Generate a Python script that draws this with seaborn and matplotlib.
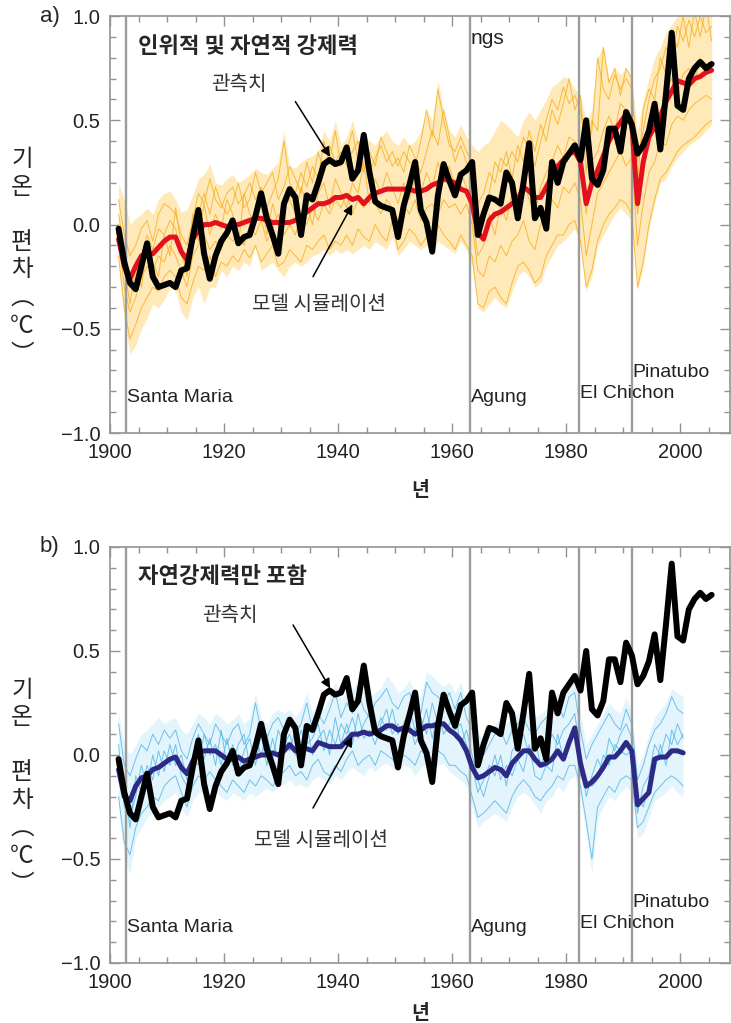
"""
Observed vs. simulated global temperature anomaly (1901-2005).

Two panels: (a) models with anthropogenic + natural forcing,
(b) models with natural forcing only.  Thin lines are individual model
runs, the thick coloured line is the multi-model mean, black is observed.
"""

import matplotlib
matplotlib.use("Agg")
import matplotlib.pyplot as plt
import numpy as np
import pandas as pd
import seaborn as sns
from matplotlib import font_manager
from matplotlib.ticker import MultipleLocator

# ── Data ──────────────────────────────────────────────────────────────────────

YEARS_A = np.arange(1901, 2006)
YEARS_B = np.arange(1901, 2001)

OBSERVED = [
    -0.02, -0.18, -0.28, -0.31, -0.20, -0.09, -0.25, -0.30, -0.29, -0.28,
    -0.30, -0.22, -0.21, -0.06, 0.07, -0.14, -0.26, -0.15, -0.08, -0.04,
    0.02, -0.09, -0.06, -0.05, 0.04, 0.15, 0.03, -0.05, -0.14, 0.10,
    0.17, 0.13, -0.05, 0.14, 0.12, 0.20, 0.29, 0.31, 0.29, 0.30,
    0.37, 0.22, 0.26, 0.43, 0.25, 0.11, 0.09, 0.08, 0.07, -0.06,
    0.09, 0.19, 0.30, 0.07, 0.01, -0.13, 0.14, 0.29, 0.21, 0.14,
    0.24, 0.26, 0.30, -0.05, 0.05, 0.13, 0.12, 0.10, 0.25, 0.20,
    0.03, 0.20, 0.39, 0.03, 0.08, -0.02, 0.30, 0.20, 0.30, 0.34,
    0.38, 0.31, 0.50, 0.22, 0.19, 0.26, 0.46, 0.46, 0.35, 0.54,
    0.48, 0.34, 0.38, 0.45, 0.58, 0.36, 0.63, 0.92, 0.57, 0.55,
    0.70, 0.75, 0.78, 0.75, 0.77,
]

# panel a: anthropogenic + natural forcing
MEAN_A = [
    -0.07, -0.20, -0.26, -0.20, -0.15, -0.14, -0.14, -0.11, -0.08, -0.06,
    -0.06, -0.13, -0.17, -0.07, -0.03, 0.00, 0.00, 0.01, 0.00, -0.01,
    0.00, 0.00, 0.01, 0.02, 0.03, 0.03, 0.02, 0.01, 0.01, 0.01,
    0.01, 0.02, 0.04, 0.06, 0.08, 0.10, 0.10, 0.11, 0.13, 0.13,
    0.14, 0.12, 0.13, 0.10, 0.13, 0.15, 0.16, 0.17, 0.17, 0.17,
    0.17, 0.17, 0.16, 0.16, 0.17, 0.19, 0.20, 0.22, 0.21, 0.20,
    0.17, 0.16, 0.10, -0.04, -0.07, 0.02, 0.05, 0.06, 0.08, 0.10,
    0.12, 0.18, 0.16, 0.13, 0.13, 0.18, 0.23, 0.28, 0.31, 0.34,
    0.35, 0.30, 0.10, 0.20, 0.26, 0.33, 0.40, 0.45, 0.49, 0.53,
    0.48, 0.10, 0.30, 0.42, 0.47, 0.52, 0.59, 0.64, 0.69, 0.68,
    0.67, 0.70, 0.71, 0.73, 0.74,
]
HIGH_A = [
    0.20, 0.12, 0.00, 0.03, 0.05, 0.08, 0.05, 0.12, 0.15, 0.16,
    0.12, 0.06, 0.07, 0.14, 0.22, 0.24, 0.29, 0.20, 0.19, 0.22,
    0.24, 0.20, 0.22, 0.24, 0.27, 0.25, 0.24, 0.27, 0.30, 0.45,
    0.28, 0.27, 0.30, 0.32, 0.33, 0.35, 0.45, 0.40, 0.50, 0.38,
    0.42, 0.50, 0.40, 0.43, 0.40, 0.38, 0.42, 0.45, 0.40, 0.38,
    0.42, 0.38, 0.40, 0.45, 0.55, 0.50, 0.69, 0.55, 0.45, 0.42,
    0.48, 0.42, 0.38, 0.35, 0.38, 0.40, 0.45, 0.50, 0.48, 0.45,
    0.42, 0.50, 0.54, 0.50, 0.55, 0.60, 0.66, 0.68, 0.71, 0.70,
    0.65, 0.62, 0.50, 0.55, 0.80, 0.86, 0.70, 0.75, 0.72, 0.75,
    0.70, 0.45, 0.60, 0.70, 0.80, 0.85, 0.92, 0.96, 1.00, 1.02,
    1.05, 1.02, 1.05, 1.08, 1.02,
]
LOW_A = [
    -0.20, -0.45, -0.62, -0.58, -0.50, -0.45, -0.38, -0.40, -0.36, -0.30,
    -0.32, -0.42, -0.46, -0.35, -0.30, -0.38, -0.30, -0.30, -0.22, -0.25,
    -0.20, -0.22, -0.18, -0.20, -0.10, -0.22, -0.20, -0.18, -0.22, -0.25,
    -0.20, -0.18, -0.20, -0.18, -0.15, -0.14, -0.12, -0.15, -0.12, -0.14,
    -0.12, -0.14, -0.12, -0.10, -0.12, -0.08, -0.10, -0.12, -0.06, -0.15,
    -0.12, -0.08, -0.10, -0.12, -0.10, -0.14, -0.08, -0.10, -0.12, -0.14,
    -0.08, -0.12, -0.20, -0.40, -0.42, -0.38, -0.35, -0.38, -0.40, -0.32,
    -0.25, -0.22, -0.25, -0.30, -0.28, -0.20, -0.15, -0.10, -0.08, -0.05,
    -0.02, -0.10, -0.32, -0.25, -0.10, -0.05, 0.00, 0.05, 0.08, 0.05,
    0.02, -0.32, -0.20, -0.02, 0.10, 0.20, 0.22, 0.28, 0.32, 0.35,
    0.38, 0.40, 0.42, 0.45, 0.48,
]
RUN_A1 = [
    0.12, -0.05, -0.15, -0.10, -0.02, 0.02, -0.08, 0.05, 0.10, 0.08,
    0.05, -0.05, -0.10, 0.02, 0.15, 0.10, 0.22, 0.12, 0.08, 0.15,
    0.18, 0.10, 0.14, 0.20, 0.12, 0.18, 0.08, 0.15, 0.22, 0.40,
    0.20, 0.15, 0.25, 0.18, 0.28, 0.22, 0.40, 0.30, 0.45, 0.28,
    0.35, 0.45, 0.30, 0.38, 0.25, 0.32, 0.38, 0.30, 0.35, 0.28,
    0.35, 0.30, 0.28, 0.40, 0.55, 0.42, 0.65, 0.50, 0.38, 0.35,
    0.42, 0.35, 0.30, 0.10, 0.15, 0.25, 0.20, 0.32, 0.28, 0.35,
    0.30, 0.42, 0.35, 0.28, 0.40, 0.50, 0.60, 0.55, 0.66, 0.58,
    0.62, 0.55, 0.35, 0.45, 0.80, 0.65, 0.60, 0.72, 0.65, 0.70,
    0.65, 0.30, 0.45, 0.60, 0.70, 0.75, 0.85, 0.78, 0.95, 0.88,
    0.98, 0.90, 1.00, 0.92, 0.95,
]
RUN_A2 = [
    -0.15, -0.40, -0.55, -0.48, -0.40, -0.35, -0.30, -0.32, -0.25, -0.22,
    -0.25, -0.35, -0.38, -0.28, -0.20, -0.22, -0.15, -0.25, -0.18, -0.20,
    -0.15, -0.18, -0.12, -0.16, -0.10, -0.18, -0.14, -0.10, -0.20, -0.18,
    -0.12, -0.15, -0.18, -0.10, -0.12, -0.08, -0.05, -0.12, -0.08, -0.10,
    -0.05, -0.10, -0.02, -0.06, -0.08, 0.00, -0.05, -0.08, 0.02, -0.12,
    -0.08, -0.02, -0.05, -0.10, -0.06, -0.12, 0.00, -0.05, -0.08, -0.12,
    -0.05, -0.10, -0.15, -0.38, -0.40, -0.32, -0.30, -0.35, -0.38, -0.28,
    -0.20, -0.18, -0.22, -0.28, -0.25, -0.15, -0.10, -0.05, -0.05, 0.00,
    0.02, -0.08, -0.30, -0.22, -0.08, 0.00, 0.05, 0.08, 0.12, 0.10,
    0.05, -0.30, -0.18, 0.00, 0.12, 0.22, 0.25, 0.30, 0.35, 0.38,
    0.40, 0.42, 0.45, 0.48, 0.50,
]
RUN_A3 = [
    0.05, -0.12, -0.30, -0.25, -0.15, -0.05, -0.12, -0.02, -0.05, 0.02,
    -0.02, -0.15, -0.20, -0.05, 0.05, 0.15, 0.05, 0.18, 0.10, 0.05,
    0.10, 0.20, 0.08, 0.12, 0.25, 0.15, 0.20, 0.25, 0.12, 0.18,
    0.28, 0.22, 0.15, 0.30, 0.20, 0.35, 0.25, 0.38, 0.30, 0.35,
    0.28, 0.35, 0.40, 0.25, 0.35, 0.28, 0.42, 0.35, 0.28, 0.32,
    0.25, 0.38, 0.32, 0.25, 0.35, 0.45, 0.38, 0.55, 0.42, 0.30,
    0.38, 0.30, 0.22, -0.05, 0.05, 0.15, 0.30, 0.25, 0.35, 0.22,
    0.38, 0.30, 0.45, 0.35, 0.48, 0.40, 0.55, 0.48, 0.58, 0.70,
    0.55, 0.62, 0.25, 0.50, 0.45, 0.85, 0.68, 0.75, 0.62, 0.75,
    0.70, 0.20, 0.55, 0.65, 0.60, 0.80, 0.72, 0.92, 0.85, 1.00,
    0.85, 1.02, 0.90, 1.05, 0.88,
]
RUN_A4 = [
    -0.05, -0.30, -0.42, -0.35, -0.25, -0.20, -0.22, -0.15, -0.18, -0.10,
    -0.15, -0.22, -0.30, -0.15, -0.10, -0.05, -0.12, -0.08, -0.12, -0.05,
    -0.08, -0.05, -0.10, 0.00, -0.05, 0.02, -0.08, -0.02, 0.05, -0.05,
    0.00, -0.05, 0.05, 0.00, 0.08, 0.02, 0.10, 0.05, 0.12, 0.08,
    0.15, 0.05, 0.12, 0.08, 0.15, 0.10, 0.05, 0.12, 0.08, 0.02,
    0.10, 0.05, 0.12, 0.02, 0.08, 0.10, 0.05, 0.12, 0.08, 0.10,
    0.05, 0.10, 0.00, -0.22, -0.25, -0.15, -0.18, -0.10, -0.15, -0.08,
    -0.05, 0.02, -0.08, -0.12, 0.00, 0.05, 0.12, 0.08, 0.18, 0.15,
    0.20, 0.12, -0.15, 0.00, 0.15, 0.20, 0.25, 0.30, 0.35, 0.28,
    0.32, -0.10, 0.10, 0.25, 0.30, 0.40, 0.38, 0.48, 0.52, 0.50,
    0.55, 0.58, 0.60, 0.62, 0.60,
]
RUN_A5 = [
    0.00, -0.20, -0.38, -0.20, -0.30, -0.10, -0.18, -0.25, -0.05, -0.15,
    0.08, -0.10, -0.25, 0.05, -0.08, 0.10, -0.05, 0.05, -0.02, 0.12,
    0.05, -0.10, 0.15, 0.05, 0.00, 0.12, -0.05, 0.10, 0.00, 0.08,
    0.12, 0.05, 0.18, 0.10, 0.00, 0.15, 0.20, 0.08, 0.22, 0.15,
    0.08, 0.20, 0.15, 0.30, 0.10, 0.22, 0.15, 0.25, 0.18, 0.10,
    0.20, 0.12, 0.22, 0.15, 0.25, 0.18, 0.30, 0.20, 0.28, 0.18,
    0.25, 0.18, 0.05, -0.15, -0.10, 0.05, -0.05, 0.10, 0.02, 0.15,
    0.10, 0.20, 0.12, 0.05, 0.18, 0.25, 0.30, 0.38, 0.32, 0.42,
    0.40, 0.35, 0.05, 0.30, 0.35, 0.45, 0.52, 0.45, 0.58, 0.55,
    0.50, 0.05, 0.30, 0.45, 0.55, 0.50, 0.65, 0.70, 0.62, 0.72,
    0.75, 0.68, 0.80, 0.72, 0.78,
]

# panel b: natural forcing only
MEAN_B = [
    -0.07, -0.20, -0.22, -0.15, -0.11, -0.10, -0.07, -0.06, -0.04, -0.02,
    -0.01, -0.06, -0.09, -0.03, 0.01, 0.02, 0.02, 0.02, 0.00, -0.02,
    -0.02, -0.01, -0.03, -0.02, -0.01, 0.00, 0.00, 0.01, 0.00, 0.02,
    0.05, 0.02, 0.03, 0.03, 0.02, 0.06, 0.05, 0.04, 0.04, 0.04,
    0.07, 0.10, 0.10, 0.11, 0.10, 0.11, 0.12, 0.14, 0.14, 0.12,
    0.13, 0.12, 0.10, 0.12, 0.14, 0.14, 0.15, 0.15, 0.12, 0.10,
    0.07, 0.02, -0.06, -0.11, -0.10, -0.08, -0.06, -0.07, -0.10, -0.04,
    -0.01, 0.02, 0.02, -0.02, -0.05, -0.04, -0.02, 0.02, -0.02, 0.06,
    0.13, -0.04, -0.15, -0.13, -0.10, -0.06, -0.01, -0.01, 0.02, 0.06,
    0.02, -0.24, -0.21, -0.18, -0.02, -0.01, -0.01, 0.02, 0.02, 0.01,
]
HIGH_B = [
    0.20, 0.05, 0.00, 0.05, 0.10, 0.12, 0.15, 0.18, 0.15, 0.17,
    0.18, 0.12, 0.10, 0.15, 0.20, 0.18, 0.15, 0.20, 0.18, 0.15,
    0.17, 0.20, 0.15, 0.18, 0.30, 0.18, 0.15, 0.20, 0.22, 0.20,
    0.22, 0.18, 0.22, 0.30, 0.20, 0.25, 0.22, 0.28, 0.35, 0.27,
    0.30, 0.32, 0.35, 0.30, 0.28, 0.30, 0.32, 0.38, 0.35, 0.30,
    0.32, 0.36, 0.30, 0.28, 0.40, 0.38, 0.35, 0.33, 0.35, 0.30,
    0.35, 0.25, 0.20, 0.10, 0.08, 0.12, 0.15, 0.18, 0.15, 0.18,
    0.20, 0.22, 0.20, 0.18, 0.20, 0.22, 0.25, 0.30, 0.28, 0.32,
    0.36, 0.20, 0.05, 0.10, 0.15, 0.20, 0.25, 0.22, 0.20, 0.28,
    0.20, -0.05, 0.00, 0.10, 0.18, 0.22, 0.25, 0.32, 0.30, 0.28,
]
LOW_B = [
    -0.25, -0.50, -0.57, -0.40, -0.35, -0.30, -0.28, -0.25, -0.22, -0.20,
    -0.18, -0.25, -0.30, -0.22, -0.18, -0.18, -0.16, -0.18, -0.20, -0.22,
    -0.18, -0.20, -0.22, -0.18, -0.20, -0.18, -0.16, -0.18, -0.15, -0.14,
    -0.12, -0.15, -0.14, -0.16, -0.12, -0.10, -0.12, -0.14, -0.10, -0.12,
    -0.08, -0.06, -0.08, -0.10, -0.06, -0.08, -0.05, -0.04, -0.06, -0.08,
    -0.05, -0.06, -0.10, -0.06, -0.04, -0.06, -0.05, -0.04, -0.08, -0.10,
    -0.12, -0.15, -0.25, -0.35, -0.32, -0.30, -0.28, -0.30, -0.32, -0.25,
    -0.20, -0.18, -0.20, -0.24, -0.28, -0.22, -0.20, -0.15, -0.18, -0.12,
    -0.10, -0.20, -0.38, -0.57, -0.30, -0.25, -0.20, -0.22, -0.18, -0.15,
    -0.18, -0.40, -0.38, -0.30, -0.22, -0.20, -0.18, -0.15, -0.18, -0.20,
]
RUN_B1 = [
    0.15, -0.05, -0.10, -0.02, 0.05, 0.02, 0.10, 0.05, 0.12, 0.08,
    0.12, 0.02, -0.02, 0.08, 0.15, 0.10, 0.05, 0.15, 0.10, 0.05,
    0.12, 0.15, 0.05, 0.10, 0.25, 0.12, 0.08, 0.15, 0.18, 0.12,
    0.18, 0.10, 0.15, 0.25, 0.12, 0.20, 0.15, 0.22, 0.30, 0.18,
    0.25, 0.20, 0.30, 0.22, 0.18, 0.25, 0.28, 0.32, 0.25, 0.22,
    0.28, 0.30, 0.22, 0.20, 0.35, 0.30, 0.28, 0.25, 0.30, 0.22,
    0.30, 0.18, 0.12, 0.02, 0.00, 0.05, 0.10, 0.12, 0.05, 0.12,
    0.15, 0.18, 0.12, 0.10, 0.15, 0.18, 0.20, 0.25, 0.18, 0.28,
    0.30, 0.12, -0.02, 0.05, 0.10, 0.15, 0.20, 0.15, 0.12, 0.22,
    0.15, -0.12, -0.05, 0.05, 0.12, 0.15, 0.20, 0.28, 0.22, 0.20,
]
RUN_B2 = [
    -0.20, -0.42, -0.48, -0.35, -0.28, -0.25, -0.20, -0.22, -0.15, -0.12,
    -0.10, -0.18, -0.25, -0.15, -0.10, -0.12, -0.08, -0.12, -0.15, -0.18,
    -0.12, -0.15, -0.18, -0.12, -0.15, -0.10, -0.12, -0.15, -0.10, -0.08,
    -0.05, -0.10, -0.08, -0.12, -0.05, -0.02, -0.08, -0.10, -0.05, -0.08,
    -0.02, 0.02, -0.05, -0.02, 0.00, -0.05, 0.02, 0.00, -0.02, -0.05,
    0.00, -0.02, -0.05, 0.02, 0.00, -0.02, 0.02, 0.00, -0.05, -0.05,
    -0.08, -0.10, -0.20, -0.30, -0.28, -0.25, -0.22, -0.25, -0.28, -0.20,
    -0.15, -0.12, -0.15, -0.20, -0.22, -0.18, -0.15, -0.10, -0.12, -0.05,
    -0.05, -0.15, -0.32, -0.50, -0.25, -0.20, -0.15, -0.18, -0.12, -0.10,
    -0.12, -0.35, -0.32, -0.25, -0.18, -0.15, -0.12, -0.10, -0.12, -0.15,
]
RUN_B3 = [
    0.05, -0.25, -0.30, -0.20, -0.05, -0.15, 0.00, -0.10, 0.02, -0.05,
    0.05, -0.10, -0.15, 0.00, -0.05, 0.10, 0.00, 0.05, -0.05, 0.08,
    -0.05, 0.05, 0.10, -0.05, 0.08, 0.00, 0.10, -0.02, 0.12, 0.05,
    0.10, 0.00, 0.12, 0.05, 0.08, 0.15, 0.02, 0.12, 0.05, 0.15,
    0.10, 0.18, 0.08, 0.15, 0.20, 0.10, 0.18, 0.12, 0.22, 0.10,
    0.15, 0.22, 0.12, 0.18, 0.10, 0.25, 0.15, 0.30, 0.18, 0.12,
    0.15, 0.05, -0.05, -0.18, -0.12, -0.05, -0.10, 0.00, -0.15, 0.02,
    0.05, 0.10, 0.00, 0.08, -0.05, 0.02, 0.10, 0.05, 0.12, 0.15,
    0.20, 0.00, -0.20, -0.10, -0.02, -0.08, 0.08, 0.02, 0.10, 0.15,
    0.08, -0.28, -0.15, -0.10, 0.05, 0.00, 0.10, 0.05, 0.15, 0.08,
]
RUN_B4 = [
    -0.10, -0.15, -0.35, -0.10, -0.18, -0.05, -0.12, 0.02, -0.08, 0.05,
    -0.05, 0.00, -0.12, -0.05, 0.10, -0.02, 0.08, -0.05, 0.12, -0.05,
    0.05, -0.08, 0.02, 0.08, -0.05, 0.10, -0.05, 0.08, -0.02, 0.10,
    0.02, 0.12, -0.02, 0.15, 0.00, 0.08, 0.12, 0.00, 0.18, 0.05,
    0.15, 0.05, 0.20, 0.08, 0.12, 0.05, 0.15, 0.22, 0.10, 0.15,
    0.08, 0.15, 0.05, 0.12, 0.22, 0.08, 0.20, 0.10, 0.15, 0.20,
    0.05, 0.12, 0.00, -0.12, -0.20, -0.10, 0.00, -0.12, -0.05, -0.10,
    -0.02, -0.08, 0.05, -0.10, -0.12, -0.05, -0.08, 0.10, -0.02, 0.05,
    0.12, -0.10, -0.12, -0.15, -0.12, 0.00, -0.05, 0.05, 0.02, 0.00,
    0.02, -0.20, -0.25, -0.15, -0.08, 0.05, -0.05, 0.12, 0.05, 0.10,
]

VOLCANO_NAMES = ["Santa Maria", "Agung", "El Chichon", "Pinatubo"]
VOLCANO_YEARS = [1902.8, 1963.2, 1982.3, 1991.5]
VOLCANO_LABEL_Y = [-0.83, -0.83, -0.81, -0.71]

# ── Style ─────────────────────────────────────────────────────────────────────

sns.set_theme(style="ticks")
_names = {f.name for f in font_manager.fontManager.ttflist}
NARROW = "Liberation Sans Narrow" in _names
LATIN = "Liberation Sans Narrow" if NARROW else "Liberation Sans"
LATIN_SIZE = 17 if NARROW else 14
KR = "Noto Sans CJK KR"
plt.rcParams["font.family"] = [LATIN, KR, "DejaVu Sans"]
plt.rcParams["axes.unicode_minus"] = True

SPINE = "#939393"
VOLC = "#9c9c9c"


def runs_frame(runs, years):
    """Long-format frame of ensemble runs for seaborn (one unit per run)."""
    return pd.DataFrame({
        "year": np.tile(years + 0.5, len(runs)),
        "anomaly": np.concatenate([np.asarray(r, float) for r in runs]),
        "run": np.repeat(np.arange(len(runs)), len(years)),
    })


def draw_panel(ax, tag, title, years, low, high, runs, mean,
               band_color, run_color, mean_color, arrows, show_ngs=False,
               xlabel_pad=9):
    x = years + 0.5  # annual means, centred mid-year

    ax.fill_between(x, low, high, color=band_color, lw=0, zorder=1)
    sns.lineplot(data=runs_frame(runs, years), x="year", y="anomaly",
                 units="run", estimator=None, color=run_color, lw=0.7,
                 alpha=0.8, legend=False, ax=ax, zorder=1.5)

    for vy in VOLCANO_YEARS:
        ax.axvline(vy, color=VOLC, lw=1.7, zorder=2)

    sns.lineplot(x=x, y=mean, color=mean_color, lw=3.6, ax=ax, zorder=3)
    sns.lineplot(x=np.arange(1901, 2006) + 0.5, y=OBSERVED, color="black",
                 lw=4.3, ax=ax, zorder=4)

    for name, vy, ly in zip(VOLCANO_NAMES, VOLCANO_YEARS, VOLCANO_LABEL_Y):
        ax.text(vy + 0.1, ly, name, fontsize=LATIN_SIZE, va="center",
                ha="left", color="#222222", zorder=5)
    if show_ngs:
        ax.text(1963.3, 0.89, "ngs", fontsize=LATIN_SIZE + 1, va="center",
                ha="left", color="#222222")

    # panel tag, title and annotations
    ax.text(-0.081, 1.0, tag, transform=ax.transAxes, ha="right",
            va="center", fontsize=LATIN_SIZE + 2)
    ax.text(1904.9, 0.856, title, family=[KR], fontsize=16,
            fontweight="bold", va="center", ha="left", zorder=6)
    for label, (tx, ty), (hx, hy), (lx, ly) in arrows:
        ax.annotate("", xy=(hx, hy), xytext=(tx, ty),
                    arrowprops=dict(arrowstyle="-|>", color="black", lw=1.1,
                                    mutation_scale=14, shrinkA=0, shrinkB=0),
                    zorder=6)
        ax.text(lx, ly, label, family=[KR], fontsize=14.5, color="#333333",
                ha="center", va="center", zorder=6)

    # stacked Korean y label
    for txt, yy in [("기\n온", 0.622), ("편\n차", 0.424), ("︵\n℃\n︶", 0.255)]:
        ax.text(-0.142, yy, txt, transform=ax.transAxes, family=[KR],
                fontsize=17, fontweight="medium", ha="center", va="center",
                linespacing=1.25)

    ax.set_xlim(1900, 2008.7)
    ax.set_ylim(-1.0, 1.0)
    ax.set_xticks(range(1900, 2001, 20))
    ax.set_yticks([-1.0, -0.5, 0.0, 0.5, 1.0])
    ax.xaxis.set_minor_locator(MultipleLocator(5))
    ax.yaxis.set_minor_locator(MultipleLocator(0.1))
    ax.set_yticklabels(["\u22121.0", "\u22120.5", "0.0", "0.5", "1.0"])
    ax.tick_params(which="both", direction="in", top=True, right=True,
                   color=SPINE, width=1.0, labelsize=LATIN_SIZE + 0.5,
                   labelcolor="#222222", pad=7)
    ax.tick_params(which="major", length=7)
    ax.tick_params(which="minor", length=4.5)
    for sp in ax.spines.values():
        sp.set_color(SPINE)
        sp.set_linewidth(1.2)
    ax.set_ylabel("")
    ax.set_xlabel("년", family=[KR], fontsize=14, fontweight="bold",
                  labelpad=xlabel_pad)


fig = plt.figure(figsize=(7.31, 10.23), dpi=100)
ax_a = fig.add_axes([0.1505, 0.5767, 0.848, 0.4076])
ax_b = fig.add_axes([0.1505, 0.0587, 0.848, 0.4066])

draw_panel(
    ax_a, "a)", "인위적 및 자연적 강제력", YEARS_A, LOW_A, HIGH_A,
    [RUN_A1, RUN_A2, RUN_A3, RUN_A4, RUN_A5], MEAN_A,
    band_color="#FFE9B8", run_color="#F5AE1C", mean_color="#E3101E",
    arrows=[("관측치", (1932.5, 0.59), (1938.6, 0.325), (1922.6, 0.673)),
            ("모델 시뮬레이션", (1935.6, -0.25), (1942.5, 0.096),
             (1936.7, -0.385))],
    show_ngs=True, xlabel_pad=14,
)
draw_panel(
    ax_b, "b)", "자연강제력만 포함", YEARS_B, LOW_B, HIGH_B,
    [RUN_B1, RUN_B2, RUN_B3, RUN_B4], MEAN_B,
    band_color="#E3F4FC", run_color="#4CB6E6", mean_color="#2C2A86",
    arrows=[("관측치", (1932.1, 0.625), (1938.6, 0.32), (1921.0, 0.673)),
            ("모델 시뮬레이션", (1935.6, -0.255), (1942.5, 0.087),
             (1937.0, -0.41))],
    xlabel_pad=9,
)

fig.savefig("out.png", dpi=100)
